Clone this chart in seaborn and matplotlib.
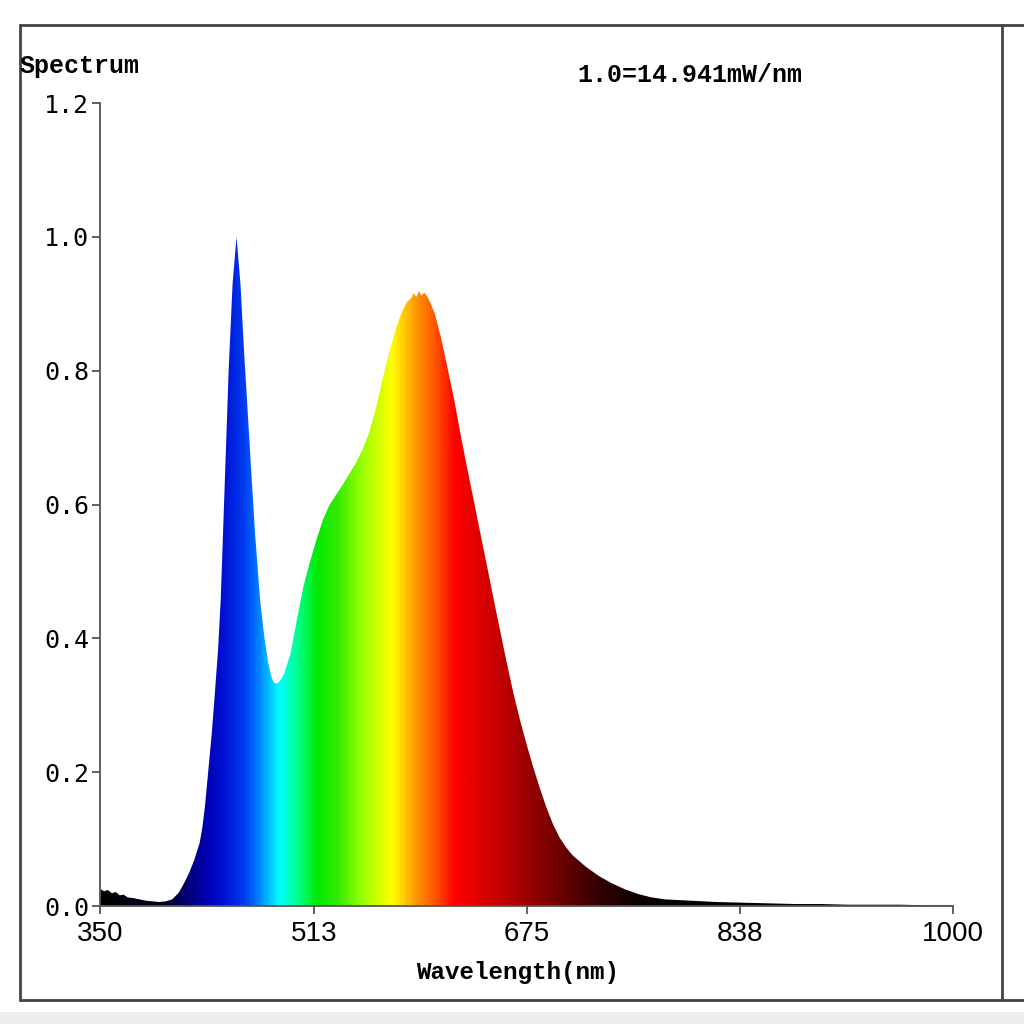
import numpy as np
import matplotlib
matplotlib.use("Agg")
import matplotlib.pyplot as plt
from matplotlib.colors import LinearSegmentedColormap, Normalize
from matplotlib.lines import Line2D
from matplotlib.patches import Rectangle
import seaborn as sns

# Spectrum (relative, 1.0 = 14.941 mW/nm)
wavelength = [350, 353, 356, 359, 362, 365, 368, 371, 375, 380, 385, 390, 395,
              400, 405, 410, 414, 418, 422, 426, 428, 430, 432, 435, 437, 440,
              442, 445, 448, 451, 454, 457, 460, 464, 468, 472, 475, 478, 480,
              482, 484, 487, 490, 495, 500, 505, 510, 515, 520, 525, 530, 535,
              540, 545, 550, 555, 560, 565, 570, 575, 580, 584, 587, 589, 591,
              593, 595, 597, 600, 605, 610, 615, 620, 625, 630, 635, 640, 645,
              650, 655, 660, 665, 670, 675, 680, 685, 690, 695, 700, 705, 710,
              720, 730, 740, 750, 760, 770, 780, 800, 820, 840, 860, 880, 900,
              920, 940, 960, 980, 1000]
intensity = [0.026, 0.022, 0.024, 0.019, 0.021, 0.016, 0.017, 0.013, 0.012,
             0.010, 0.008, 0.007, 0.006, 0.007, 0.010, 0.020, 0.034, 0.050,
             0.070, 0.095, 0.118, 0.150, 0.192, 0.255, 0.305, 0.385, 0.460,
             0.630, 0.800, 0.930, 1.000, 0.930, 0.820, 0.690, 0.560, 0.457,
             0.405, 0.365, 0.347, 0.335, 0.332, 0.336, 0.346, 0.376, 0.428,
             0.478, 0.515, 0.548, 0.578, 0.600, 0.615, 0.630, 0.646, 0.662,
             0.682, 0.707, 0.742, 0.785, 0.825, 0.860, 0.888, 0.903, 0.908,
             0.916, 0.910, 0.919, 0.912, 0.917, 0.909, 0.886, 0.848, 0.802,
             0.755, 0.702, 0.652, 0.604, 0.555, 0.507, 0.458, 0.410, 0.363,
             0.318, 0.278, 0.242, 0.208, 0.177, 0.148, 0.123, 0.103, 0.088,
             0.076, 0.059, 0.045, 0.034, 0.025, 0.018, 0.013, 0.010, 0.008,
             0.006, 0.005, 0.004, 0.003, 0.003, 0.002, 0.002, 0.002, 0.001,
             0.001]

x_ticks = [350, 513, 675, 838, 1000]
y_ticks = [0.0, 0.2, 0.4, 0.6, 0.8, 1.0, 1.2]

# wavelength -> colour used for the fill gradient
color_nodes = [
    (350, (0.0, 0.0, 0.0)),
    (400, (0.0, 0.0, 0.15)),
    (415, (0.0, 0.0, 0.45)),
    (430, (0.0, 0.0, 0.70)),
    (445, (0.0, 0.08, 0.85)),
    (460, (0.0, 0.25, 0.95)),
    (470, (0.0, 0.50, 1.0)),
    (486, (0.0, 1.0, 1.0)),
    (500, (0.0, 1.0, 0.55)),
    (515, (0.0, 0.92, 0.0)),
    (530, (0.2, 0.92, 0.0)),
    (550, (0.62, 1.0, 0.0)),
    (572, (1.0, 1.0, 0.0)),
    (590, (1.0, 0.60, 0.0)),
    (605, (1.0, 0.33, 0.0)),
    (620, (1.0, 0.0, 0.0)),
    (650, (0.80, 0.0, 0.0)),
    (690, (0.50, 0.0, 0.0)),
    (730, (0.20, 0.0, 0.0)),
    (760, (0.05, 0.0, 0.0)),
    (790, (0.0, 0.0, 0.0)),
    (1000, (0.0, 0.0, 0.0)),
]

sns.set_theme(style="ticks")
plt.rcParams["font.family"] = ["DejaVu Sans Mono", "DejaVu Sans"]
plt.rcParams["text.color"] = "black"

fig = plt.figure(figsize=(10.24, 10.24), dpi=100)
fig.patch.set_facecolor("white")
ax = fig.add_axes([0.0977, 0.1152, 0.8330, 0.7842])
ax.set_facecolor("white")

wl_min, wl_max = 350, 1000
cmap = LinearSegmentedColormap.from_list(
    "spectrum",
    [((w - wl_min) / (wl_max - wl_min), c) for w, c in color_nodes])

fill = ax.fill_between(wavelength, 0, intensity, color="none", lw=0)
grad = np.linspace(wl_min, wl_max, 1400).reshape(1, -1)
img = ax.imshow(grad, extent=[wl_min, wl_max, 0, 1.2], aspect="auto",
                cmap=cmap, norm=Normalize(wl_min, wl_max), origin="lower",
                interpolation="bilinear")
img.set_clip_path(fill.get_paths()[0], transform=ax.transData)

ax.set_xlim(wl_min, wl_max)
ax.set_ylim(0, 1.2)
ax.set_xticks(x_ticks)
ax.set_xticklabels([str(t) for t in x_ticks],
                   family=["Liberation Sans", "DejaVu Sans"], fontsize=20)
ax.set_yticks(y_ticks)
ax.set_yticklabels([f"{t:.1f}" for t in y_ticks], fontsize=18)
sns.despine(ax=ax)
for side in ["left", "bottom"]:
    ax.spines[side].set_color("#555555")
    ax.spines[side].set_linewidth(1.3)
ax.tick_params(direction="out", length=6, width=1.3, color="#555555",
               labelcolor="black")
ax.tick_params(axis="x", pad=5)
ax.tick_params(axis="y", pad=2)

mono = ["Liberation Mono", "DejaVu Sans Mono"]
fig.text(20 / 1024, 1 - 66 / 1024, "Spectrum", family=mono, fontsize=18,
         fontweight="bold", color="black", ha="left", va="center")
fig.text(577 / 1024, 1 - 75 / 1024, "1.0=14.941mW/nm", family=mono,
         fontsize=18, fontweight="bold", color="black", ha="left", va="center")
fig.text(518 / 1024, 1 - 972 / 1024, "Wavelength(nm)", family=mono,
         fontsize=17.5, fontweight="bold", color="black", ha="center",
         va="center")

# outer frame
frame_kw = dict(color="#444444", lw=2, transform=fig.transFigure)
fig.add_artist(Line2D([20 / 1024, 1.0], [1 - 25 / 1024] * 2, **frame_kw))
fig.add_artist(Line2D([20 / 1024, 1.0], [1 - 1000 / 1024] * 2, **frame_kw))
fig.add_artist(Line2D([20 / 1024] * 2, [1 - 25 / 1024, 1 - 1000 / 1024], **frame_kw))
fig.add_artist(Line2D([1002 / 1024] * 2, [1 - 25 / 1024, 1 - 1000 / 1024], **frame_kw))
fig.add_artist(Rectangle((0, 0), 1, 12 / 1024, transform=fig.transFigure,
                         color="#eeeeee", lw=0))

fig.savefig("out.png", dpi=100)
